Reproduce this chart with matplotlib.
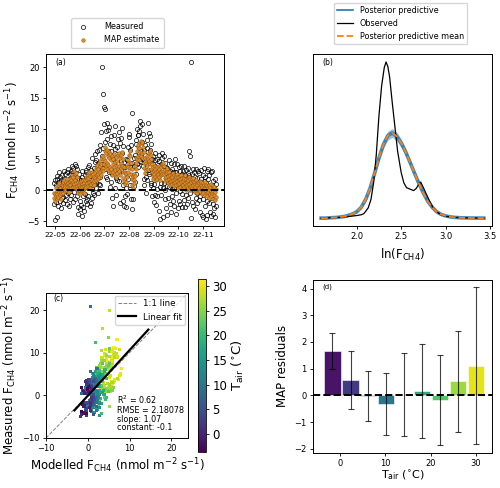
#!/usr/bin/env python3

import numpy as np
import pandas as pd
from matplotlib import pyplot as plt
import matplotlib.dates as mdates
from matplotlib.lines import Line2D

################################################################################
# data
################################################################################

# (a) 12-hourly flux series, starting 2022-04-30 00:00 (nmol m-2 s-1)
map_estimate = [
	-1.2,-0.4, -1.8,-0.6, -0.9,0.3, -1.5,-0.2, -0.6,0.8, -1.1,0.2, -0.3,1.1, -0.8,0.4, -1.4,-0.1, -0.5,0.9,
	0.1,1.3, -0.4,0.7, 0.3,1.6, -0.2,0.9, 0.5,1.4, 0.0,1.0, 0.6,1.8, 0.2,1.2, -0.3,0.8, 0.4,1.5,
	0.8,2.0, 0.3,1.6, 1.1,2.4, 0.6,2.1, 1.4,3.1, 1.0,2.6, 0.5,1.7, 1.2,2.8, 0.7,2.2, 0.2,1.4,
	-0.4,0.9, 0.1,1.3, -0.6,0.6, 0.3,1.5, -0.2,1.0, 0.6,1.7, 0.0,1.2, -0.5,0.7, 0.4,1.6, 0.9,2.1,
	0.5,1.8, 1.1,2.5, 0.7,2.0, 1.4,2.9, 0.9,2.3, 0.3,1.5, 1.0,2.4, 1.6,3.0, 1.2,2.6, 0.8,2.2,
	1.5,3.0, 2.0,3.6, 1.7,3.3, 2.4,4.1, 1.9,3.5, 2.6,4.4, 2.2,3.9, 3.0,4.8, 2.5,4.3, 3.3,5.2,
	3.6,5.6, 3.1,5.0, 4.2,6.4, 4.8,7.0, 3.9,6.1, 4.4,6.6, 3.5,5.5, 4.1,6.2, 3.2,5.3, 3.8,5.9,
	2.9,4.9, 3.4,5.6, 2.4,4.3, 3.0,5.1, 3.7,5.9, 2.6,4.6, 3.3,5.4, 2.2,4.0, 2.8,4.8, 3.5,5.7,
	3.9,6.0, 3.1,5.2, 2.5,4.4, 3.6,5.8, 4.0,6.2, 2.9,5.0, 2.0,3.8, 1.5,3.0, 1.0,2.4, 1.3,2.8,
	2.2,3.9, 3.0,4.9, 3.8,5.8, 4.4,6.3, 3.6,5.5, 2.7,4.5, 1.8,3.4, 0.9,2.3, 0.4,1.6, 1.2,2.7,
	2.3,4.0, 3.4,5.2, 4.5,6.4, 5.1,7.0, 5.6,7.4, 4.9,6.8, 5.8,7.7, 6.2,8.0, 5.5,7.6, 6.0,7.9,
	5.2,7.1, 4.4,6.2, 3.6,5.3, 2.8,4.4, 3.3,4.9, 4.1,5.6, 3.5,5.1, 4.4,6.0, 4.8,6.3, 4.2,5.8,
	3.5,5.0, 2.9,4.3, 2.3,3.7, 1.8,3.2, 2.6,4.0, 2.1,3.5, 1.6,3.0, 2.4,3.7, 1.9,3.2, 2.7,4.0,
	2.2,3.5, 1.7,2.9, 2.5,3.8, 3.0,4.2, 2.6,3.9, 3.2,4.4, 2.7,4.0, 2.0,3.3, 1.5,2.8, 2.2,3.4,
	1.6,2.9, 1.1,2.3, 1.8,3.0, 1.3,2.5, 0.8,2.0, 1.5,2.7, 1.0,2.2, 1.7,2.8, 1.2,2.4, 0.7,1.9,
	1.3,2.5, 0.9,2.1, 1.5,2.6, 1.0,2.2, 0.4,1.7, 1.1,2.3, 0.6,1.9, 1.3,2.4, 0.8,2.0, 0.2,1.5,
	0.9,2.1, 0.5,1.8, 1.2,2.4, 0.7,1.9, 0.1,1.4, 0.8,2.0, 0.4,1.6, 1.0,2.2, 0.6,1.8, 0.0,1.3,
	0.7,1.9, 0.3,1.5, 0.9,2.0, 0.2,1.4, -0.3,1.0, 0.5,1.6, 0.1,1.2, -0.4,0.9, 0.3,1.4, -0.1,1.1,
	0.4,1.5, -0.2,0.9, 0.2,1.3, -0.6,0.6, 0.0,1.1, -0.4,0.8, 0.3,1.4, -0.8,0.4, -0.2,0.9, -0.5,0.7,
	-0.9,0.3, -0.3,0.8, -1.2,0.1, -0.6,0.6, -0.1,1.0, -1.0,0.2, -0.4,0.7, -1.4,-0.1, -0.7,0.5, -1.6,-0.3,
	-1.1,0.2]

measured = [
	1.2,-2.3, -4.9,1.6, 0.8,-1.9, -4.4,2.3, 1.9,-0.7, -2.6,1.4, 0.9,3.0, -1.8,2.2, 0.4,-2.9, 1.7,-1.2,
	2.4,-1.1, 1.5,-2.0, 3.1,0.2, -1.6,2.7, 1.9,-0.8, 0.6,2.9, -2.3,1.1, 3.5,-0.5, 1.8,-2.5, 0.1,2.6,
	-1.4,3.2, 2.8,-0.7, 0.4,3.9, -1.9,2.5, 3.6,0.9, -0.3,4.3, 2.2,-1.5, 4.0,0.6, -0.9,3.4, 1.9,-2.8,
	-3.9,1.8, 2.6,-1.7, -3.1,0.9, 1.6,-2.4, -4.2,2.2, 3.1,-1.0, -2.7,1.5, -3.4,0.3, 2.4,-0.6, -1.8,3.3,
	2.9,-1.5, -2.2,3.8, 1.2,-0.9, 4.1,0.6, -2.6,2.8, 1.7,-2.0, 3.3,0.2, -1.3,5.3, 2.0,-0.4, 3.6,1.1,
	-0.8,4.6, 5.9,1.2, 0.3,4.9, 3.2,6.3, -0.5,3.7, 4.5,1.0, 6.6,2.2, 0.9,7.4, 3.8,9.5, 5.6,20.0,
	15.6,6.8, 4.2,13.6, 10.8,3.5, 7.9,13.2, 2.1,9.6, 8.4,10.9, 1.9,6.4, 9.8,3.0, 5.7,10.2, 0.6,7.5,
	6.3,1.4, 8.8,2.6, -1.2,5.0, 7.4,-2.6, 3.1,9.0, 0.4,6.7, 10.5,2.0, -0.8,5.9, 7.1,1.7, 4.4,8.3,
	9.4,2.9, 1.5,7.6, -2.1,4.8, 8.5,3.3, 6.0,10.1, 0.8,7.2, -1.7,4.6, -2.5,3.7, -0.9,5.1, 0.3,-2.8,
	4.9,-0.6, 7.0,1.9, 2.7,8.6, 9.1,3.8, 6.5,0.9, -1.5,7.3, 12.5,4.4, -3.1,2.5, -1.4,3.9, 5.2,0.7,
	5.8,1.4, 8.2,2.6, 7.5,10.0, 4.3,9.0, 8.9,3.8, 6.1,9.7, 10.4,4.7, 11.2,6.3, 4.6,10.8, 7.9,5.0,
	9.2,3.9, 6.5,1.8, 0.9,7.4, 5.8,-0.4, 2.2,6.9, 8.1,1.6, 3.3,11.0, 9.3,3.0, 2.7,8.8, 6.6,1.2,
	7.5,0.9, 5.1,-1.0, 4.2,0.3, 5.6,-1.9, 1.0,6.1, -0.7,4.9, -2.4,3.5, 5.0,0.2, -0.9,4.1, 2.2,5.8,
	-3.3,4.7, 0.6,-4.7, 4.3,1.1, -0.8,6.0, 5.2,0.3, -4.3,3.9, 1.2,5.6, -1.5,4.4, 0.1,-2.9, 3.8,0.7,
	-4.0,3.6, 2.4,-1.3, 0.5,4.9, -2.2,3.1, 1.6,-3.6, 4.5,0.2, -0.9,3.4, 2.9,-1.8, 4.2,0.4, -2.6,3.0,
	5.0,-0.5, -3.8,2.9, 1.0,4.3, -2.9,2.2, 0.6,-1.7, 3.7,-0.2, -2.3,3.2, 4.0,0.8, -0.6,2.7, -2.8,1.9,
	3.1,-1.6, 0.9,3.9, -2.7,2.5, 1.5,-0.8, 3.3,-2.2, 0.4,2.8, -1.3,3.6, 2.4,6.3, 5.6,-0.5, 1.7,-4.5,
	20.9,2.6, -1.9,3.4, 1.0,-2.6, 3.0,0.1, -3.0,2.2, 1.5,-1.2, 3.5,-0.4, -2.0,2.0, 0.7,3.2, -1.6,1.4,
	2.8,-0.9, -3.6,1.9, 0.4,3.3, -4.1,0.8, 2.5,-1.4, -4.4,1.5, 3.6,-0.3, -2.5,2.1, -4.6,1.2, 3.2,-1.8,
	-4.0,1.9, 3.4,-0.6, -2.1,2.4, 0.5,-3.6, 2.9,-1.2, -4.2,0.9, 3.1,-2.3, -3.8,1.5, 0.4,-2.9, 1.8,-4.3,
	-2.5,1.0]

# daily air temperature (deg C), same start date
tair_daily = [
	3.5, 1.2, -1.8, 0.5, 4.2, 6.8, 5.1, 2.3, 7.6, 9.2,
	8.1, 5.4, 10.3, 12.0, 9.7, 7.2, 11.5, 13.8, 10.6, 8.9,
	12.4, 14.9, 16.2, 13.5, 17.8, 15.1, 11.3, 14.6, 12.9, 9.8,
	8.6, 11.2, 7.9, 10.4, 9.1, 13.6, 12.2, 8.4, 14.1, 16.5,
	15.0, 17.9, 14.3, 19.2, 16.8, 12.7, 18.4, 20.6, 17.3, 15.9,
	19.8, 22.5, 20.1, 24.3, 21.7, 25.1, 23.4, 26.8, 24.9, 28.3,
	27.6, 25.2, 29.4, 31.4, 28.1, 30.2, 26.5, 28.9, 24.7, 27.3,
	25.8, 28.4, 22.9, 26.2, 29.1, 23.6, 27.5, 21.8, 25.0, 28.6,
	30.1, 27.0, 24.4, 28.8, 30.6, 26.1, 22.3, 20.5, 18.9, 21.2,
	23.8, 26.7, 28.5, 30.0, 27.2, 24.1, 21.0, 18.6, 17.4, 20.3,
	23.1, 25.9, 27.8, 29.3, 30.8, 28.0, 29.7, 31.0, 28.7, 29.9,
	27.4, 25.0, 22.6, 20.2, 22.9, 25.4, 23.2, 26.3, 27.1, 24.8,
	22.1, 20.0, 18.3, 16.9, 19.5, 17.6, 15.8, 18.7, 16.4, 19.0,
	17.2, 15.1, 18.0, 19.6, 17.5, 20.4, 18.2, 15.6, 13.9, 16.1,
	14.3, 12.1, 15.0, 13.2, 10.8, 13.7, 11.5, 14.2, 12.4, 9.9,
	12.0, 10.3, 13.1, 11.0, 8.2, 10.9, 9.0, 11.8, 9.6, 7.1,
	9.4, 7.8, 10.6, 8.7, 6.0, 8.9, 7.3, 10.1, 8.5, 5.8,
	9.8, 7.0, 8.3, 5.5, 3.9, 6.4, 4.8, 3.1, 5.9, 4.2,
	5.0, 2.7, 4.4, 1.5, 3.6, 1.0, 4.1, -0.6, 2.2, 0.4,
	-1.2, 1.8, -2.5, 0.3, 2.6, -1.9, 0.9, -3.6, -0.8, -3.0,
	-1.5]

# (b) densities of ln(F_CH4)
pp_x = [1.60, 1.65, 1.70, 1.75, 1.80, 1.85, 1.90, 1.95, 2.00, 2.05,
		2.10, 2.15, 2.20, 2.25, 2.30, 2.35, 2.40, 2.45, 2.50, 2.55,
		2.60, 2.65, 2.70, 2.75, 2.80, 2.85, 2.90, 2.95, 3.00, 3.05,
		3.10, 3.15, 3.20, 3.25, 3.30, 3.35, 3.40, 3.43]
pp_mean = [0.0, 0.0, 0.01, 0.015, 0.025, 0.04, 0.07, 0.11, 0.17, 0.29,
		   0.50, 0.80, 1.20, 1.62, 1.98, 2.22, 2.29, 2.20, 2.02, 1.78,
		   1.50, 1.21, 0.93, 0.67, 0.45, 0.29, 0.17, 0.10, 0.06, 0.035,
		   0.02, 0.012, 0.008, 0.005, 0.003, 0.002, 0.001, 0.0]
pp_spread = [0.0, 0.0, 0.003, 0.004, 0.006, 0.008, 0.012, 0.018, 0.025, 0.04,
			 0.06, 0.08, 0.09, 0.10, 0.11, 0.12, 0.12, 0.12, 0.11, 0.10,
			 0.09, 0.08, 0.07, 0.06, 0.05, 0.035, 0.025, 0.015, 0.01, 0.006,
			 0.004, 0.003, 0.002, 0.001, 0.001, 0.0, 0.0, 0.0]
obs_x = [1.60, 1.70, 1.80, 1.90, 2.00, 2.05, 2.08, 2.10, 2.13, 2.16,
		 2.19, 2.22, 2.25, 2.28, 2.31, 2.33, 2.35, 2.37, 2.40, 2.43,
		 2.46, 2.50, 2.53, 2.56, 2.60, 2.64, 2.67, 2.70, 2.72, 2.75,
		 2.78, 2.82, 2.86, 2.90, 2.95, 3.00, 3.10, 3.20, 3.30, 3.43]
obs_y = [0.0, 0.01, 0.02, 0.04, 0.07, 0.09, 0.12, 0.18, 0.28, 0.50,
		 0.95, 1.70, 2.75, 3.55, 4.05, 4.20, 4.08, 3.80, 3.10, 2.45,
		 1.80, 1.23, 0.95, 0.82, 0.78, 0.74, 0.80, 0.92, 0.97, 0.82,
		 0.66, 0.46, 0.28, 0.17, 0.09, 0.05, 0.02, 0.01, 0.005, 0.0]

# (c) fit statistics
fit_slope = 1.07
fit_const = -0.1
fit_x = [-3.2, 14.5]
stats_text = ['R$^2$ = 0.62', 'RMSE = 2.18078', 'slope: 1.07', 'constant: -0.1']

# (d) residuals binned by air temperature
bin_centres = [-1.7, 2.3, 6.2, 10.2, 14.1, 18.1, 22.1, 26.1, 30.0]
resid_mean = [1.65, 0.58, -0.03, -0.33, 0.03, 0.17, -0.17, 0.52, 1.10]
resid_std = [0.68, 1.08, 0.93, 1.16, 1.55, 1.76, 1.69, 1.90, 2.94]

################################################################################

flux_label = 'F$_{\\rm CH4}$ (nmol m$^{-2}$ s$^{-1}$)'
tair_label = 'T$_{\\rm air}$ ($^{\\circ}$C)'

plt.rcParams['font.size'] = 6
plt.rcParams['axes.linewidth'] = 0.7
plt.rcParams['xtick.major.size'] = 2.5
plt.rcParams['ytick.major.size'] = 2.5
plt.rcParams['xtick.major.width'] = 0.6
plt.rcParams['ytick.major.width'] = 0.6
plt.rcParams['xtick.major.pad'] = 2
plt.rcParams['ytick.major.pad'] = 2
plt.rcParams['axes.labelsize'] = 8.5
plt.rcParams['legend.fontsize'] = 5.8

map_estimate = np.array(map_estimate)
measured = np.array(measured)
times = pd.date_range('2022-04-30', periods=len(map_estimate), freq='12h')
tair = np.repeat(np.array(tair_daily), 2)[:len(map_estimate)]

fig = plt.figure(figsize=(5, 4.88), dpi=100)
ax_a = fig.add_axes([0.092, 0.537, 0.356, 0.352])
ax_b = fig.add_axes([0.626, 0.537, 0.358, 0.352])
ax_c = fig.add_axes([0.092, 0.1025, 0.284, 0.297])
cax = fig.add_axes([0.396, 0.074, 0.016, 0.354])
ax_d = fig.add_axes([0.626, 0.072, 0.358, 0.355])

#=== (a) time series ===========================================================
ax_a.plot(times, measured, linestyle='', marker='o', markersize=3,
		  markerfacecolor='none', markeredgecolor='black',
		  markeredgewidth=0.5, label='Measured')
ax_a.plot(times, map_estimate, linestyle='', marker='o', markersize=2.6,
		  markerfacecolor='#e08c2a', markeredgecolor='#7a4a12',
		  markeredgewidth=0.3, label='MAP estimate')
ax_a.axhline(0, color='black', linestyle='--', linewidth=1.4, zorder=5)
ax_a.set_ylim(-5.8, 22.1)
ax_a.set_ylabel(flux_label)
ax_a.xaxis.set_major_locator(mdates.MonthLocator())
ax_a.xaxis.set_major_formatter(mdates.DateFormatter('%y-%m'))
ax_a.tick_params(axis='x', labelsize=5.4)
ax_a.text(0.05, 0.98, '(a)', transform=ax_a.transAxes, va='top', fontsize=5.5)
ax_a.legend(loc='lower left', bbox_to_anchor=(0.12, 1.01),
			handletextpad=1.6, borderpad=0.5)

#=== (b) posterior predictive ==================================================
pp_mean = np.array(pp_mean)
pp_spread = np.array(pp_spread)
ax_b.fill_between(pp_x, pp_mean - pp_spread, pp_mean + pp_spread,
				  color='C0', alpha=0.45, linewidth=0)
ax_b.plot(pp_x, pp_mean, color='C0', linewidth=2.6, alpha=0.85)
ax_b.plot(obs_x, obs_y, color='black', linewidth=0.9)
ax_b.plot(pp_x, pp_mean, color='C1', linestyle='--', linewidth=1.3)
ax_b.set_yticks([])
ax_b.set_xticks([2.0, 2.5, 3.0, 3.5])
ax_b.set_xlabel('ln(F$_{\\rm CH4}$)')
ax_b.text(0.05, 0.98, '(b)', transform=ax_b.transAxes, va='top', fontsize=5.5)
handles_b = [Line2D([], [], color='C0', linewidth=1.2),
			 Line2D([], [], color='black', linewidth=0.9),
			 Line2D([], [], color='C1', linestyle='--', linewidth=1.3)]
ax_b.legend(handles_b, ['Posterior predictive', 'Observed',
						'Posterior predictive mean'],
			loc='lower center', bbox_to_anchor=(0.49, 1.035))

#=== (c) measured vs modelled ==================================================
lims = [-10, 24]
sc = ax_c.scatter(map_estimate, measured, c=tair, cmap='viridis',
				  s=5, marker='s', linewidths=0)
ax_c.plot(lims, lims, color='gray', linestyle='--', linewidth=0.7,
		  label='1:1 line')
ax_c.plot(fit_x, fit_slope*np.array(fit_x) + fit_const, color='black',
		  linewidth=1.6, label='Linear fit')
ax_c.set_xlim(lims)
ax_c.set_ylim(lims)
ax_c.set_xticks([-10, 0, 10, 20])
ax_c.set_yticks([-10, 0, 10, 20])
ax_c.set_xlabel('Modelled ' + flux_label, labelpad=2)
ax_c.set_ylabel('Measured ' + flux_label, labelpad=2)
ax_c.text(0.05, 0.99, '(c)', transform=ax_c.transAxes, va='top', fontsize=5.5)
ax_c.text(0.5, 0.04, '\n'.join(stats_text), transform=ax_c.transAxes,
		  va='bottom', ha='left', fontsize=5.8, linespacing=0.95)
ax_c.legend(loc='upper right', fontsize=6.3, borderaxespad=0.3)
cb = fig.colorbar(sc, cax=cax)
cb.ax.tick_params(labelsize=8.5, length=2.5, width=0.6)
cb.set_label(tair_label, fontsize=9.5, labelpad=2)
cb.outline.set_linewidth(0.6)

#=== (d) residuals =============================================================
norm = sc.norm
bar_colors = [plt.cm.viridis(norm(t)) for t in bin_centres]
ax_d.bar(bin_centres, resid_mean, width=3.6, color=bar_colors,
		 edgecolor='white', linewidth=0.4)
ax_d.errorbar(bin_centres, resid_mean, yerr=resid_std, fmt='none',
			  ecolor='black', elinewidth=0.8, capsize=2, capthick=0.8,
			  alpha=0.75)
ax_d.axhline(0, color='black', linestyle='--', linewidth=1.4)
ax_d.set_xlim(-6, 33.6)
ax_d.set_xticks([0, 10, 20, 30])
ax_d.set_ylabel('MAP residuals')
ax_d.set_xlabel(tair_label, fontsize=8, labelpad=0.5)
ax_d.text(0.05, 0.98, '(d)', transform=ax_d.transAxes, va='top', fontsize=5)

plt.savefig('out.png', dpi=100)
plt.close()

################################################################################
# EOF
